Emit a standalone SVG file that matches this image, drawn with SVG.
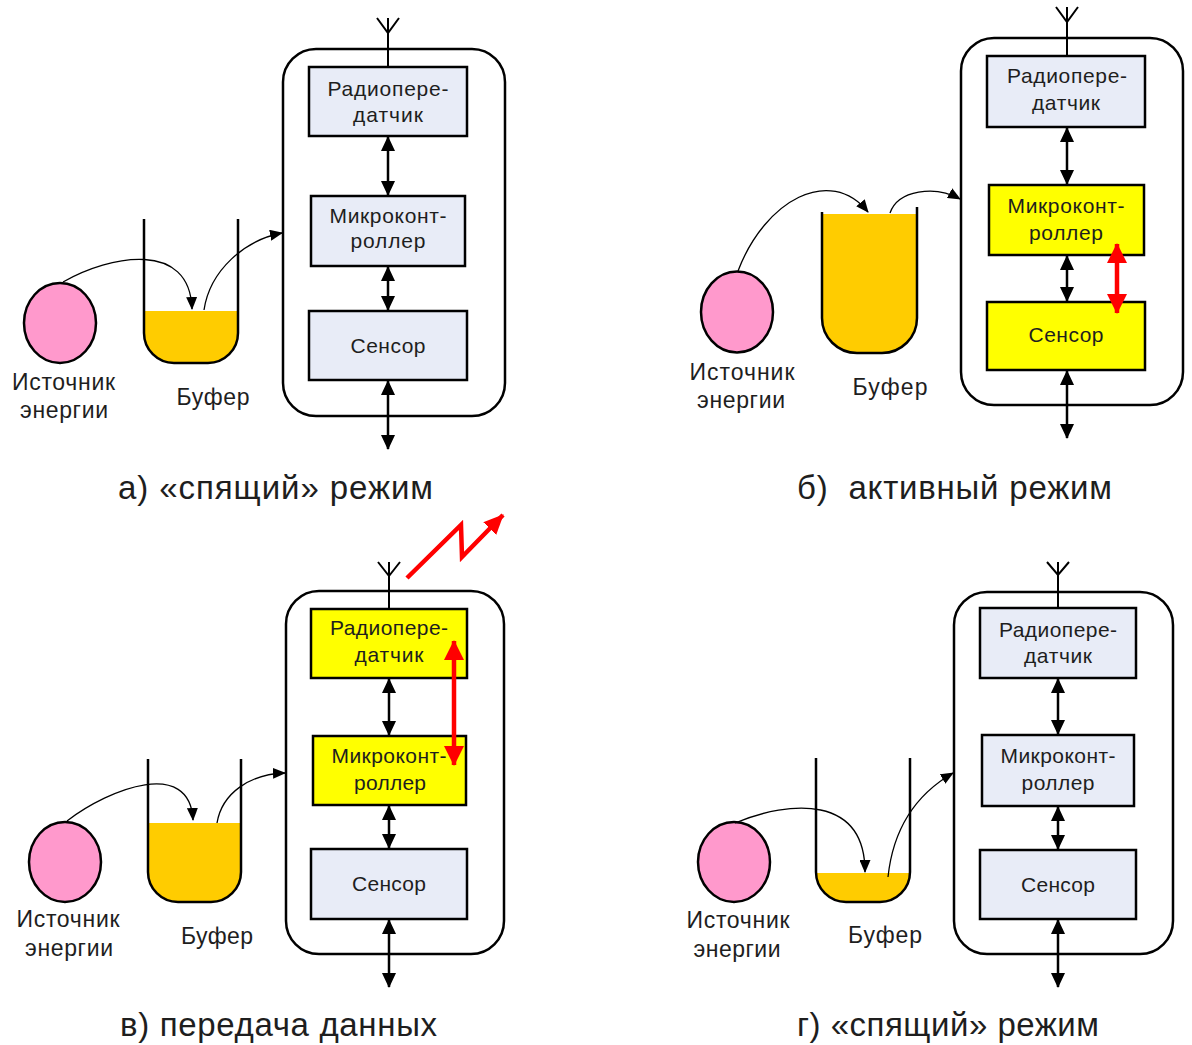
<svg xmlns="http://www.w3.org/2000/svg" width="1192" height="1045" viewBox="0 0 1192 1045">
<style>
.frame{fill:#fff;stroke:#000;stroke-width:2.5}
.bl{fill:#E8ECF7;stroke:#000;stroke-width:2.5}
.by{fill:#FFFF00;stroke:#000;stroke-width:2.5}
.src{fill:#FF99CC;stroke:#000;stroke-width:2.5}
.liq{fill:#FFCC00;stroke:none}
.cup{fill:none;stroke:#000;stroke-width:2.5}
.flow{fill:none;stroke:#000;stroke-width:1.3;marker-end:url(#ah)}
.bus{stroke:#000;stroke-width:2.5;marker-start:url(#bh);marker-end:url(#bh)}
.red{stroke:#FF0000;stroke-width:4.5;marker-start:url(#rh);marker-end:url(#rh)}
.ant{fill:none;stroke:#000;stroke-width:2}
text{font-family:"Liberation Sans",Arial,sans-serif;fill:#1e1e1e;text-anchor:middle}
.t{font-size:21px}
.l{font-size:23px}
.c{font-size:33px;white-space:pre}
</style>
<defs>
<marker id="bh" markerUnits="userSpaceOnUse" markerWidth="15" markerHeight="14" viewBox="0 0 15 14" refX="14" refY="7" orient="auto-start-reverse"><path d="M0,0L15,7L0,14z" fill="#000"/></marker>
<marker id="ah" markerUnits="userSpaceOnUse" markerWidth="13" markerHeight="11" viewBox="0 0 13 11" refX="12" refY="5.5" orient="auto"><path d="M0,0L13,5.5L0,11z" fill="#000"/></marker>
<marker id="rh" markerUnits="userSpaceOnUse" markerWidth="20" markerHeight="20" viewBox="0 0 20 20" refX="19" refY="10" orient="auto-start-reverse"><path d="M0,0L20,10L0,20z" fill="#FF0000"/></marker>
<marker id="zh" markerUnits="userSpaceOnUse" markerWidth="20" markerHeight="18" viewBox="0 0 20 18" refX="19" refY="9" orient="auto"><path d="M0,0L20,9L0,18z" fill="#FF0000"/></marker>
</defs>

<!-- Panel a -->
<g id="a-frame"><rect class="frame" x="283" y="49" width="222" height="367" rx="33"/></g>
<g id="a-source"><ellipse class="src" cx="60" cy="323" rx="36" ry="40"/>
<text class="l" x="63.5" y="390" textLength="103">Источник</text><text class="l" x="64" y="418" textLength="88">энергии</text></g>
<g id="a-buffer"><path class="liq" d="M144,311V333A30,30 0 0 0 174,363H208A30,30 0 0 0 238,333V311Z"/>
<path class="cup" d="M144,219V333A30,30 0 0 0 174,363H208A30,30 0 0 0 238,333V219"/>
<text class="l" x="213" y="405" textLength="73">Буфер</text></g>
<g id="a-radio"><rect class="bl" x="309" y="67" width="158" height="69"/>
<text class="t" x="388" y="96" textLength="121">Радиопере-</text><text class="t" x="388" y="122" textLength="70">датчик</text></g>
<g id="a-mcu"><rect class="bl" x="311" y="196" width="154" height="70"/>
<text class="t" x="388" y="223" textLength="117">Микроконт-</text><text class="t" x="388" y="248" textLength="75">роллер</text></g>
<g id="a-sensor"><rect class="bl" x="309" y="311" width="158" height="69"/>
<text class="t" x="388" y="353" textLength="75">Сенсор</text></g>
<g id="a-antenna"><path class="ant" d="M388,18V67M377,18L388,33L399,18"/></g>
<text id="a-caption" class="c" x="275.5" y="499" textLength="315">а) «спящий» режим</text>

<!-- Panel b -->
<g id="b-frame"><rect class="frame" x="961" y="38" width="222" height="367" rx="33"/></g>
<g id="b-source"><ellipse class="src" cx="737" cy="312" rx="36" ry="40.5"/>
<text class="l" x="742" y="380" textLength="105">Источник</text><text class="l" x="741" y="408" textLength="88">энергии</text></g>
<g id="b-buffer"><path class="liq" d="M822,214V318A35,35 0 0 0 857,353H882A35,35 0 0 0 917,318V214Z"/>
<path class="cup" d="M822,212V318A35,35 0 0 0 857,353H882A35,35 0 0 0 917,318V207"/>
<text class="l" x="890" y="395" textLength="75">Буфер</text></g>
<g id="b-radio"><rect class="bl" x="987" y="56" width="158" height="71"/>
<text class="t" x="1067" y="83" textLength="120">Радиопере-</text><text class="t" x="1066" y="110" textLength="68">датчик</text></g>
<g id="b-mcu"><rect class="by" x="989" y="185" width="155" height="70"/>
<text class="t" x="1066" y="213" textLength="117">Микроконт-</text><text class="t" x="1066" y="240" textLength="74">роллер</text></g>
<g id="b-sensor"><rect class="by" x="987" y="302" width="158" height="68"/>
<text class="t" x="1066" y="342" textLength="75">Сенсор</text></g>
<g id="b-antenna"><path class="ant" d="M1067,7V56M1056,7L1067,22L1078,7"/></g>
<text id="b-caption" class="c" x="954.5" y="499" textLength="315">б)  активный режим</text>

<!-- Panel c -->
<g id="c-frame"><rect class="frame" x="286" y="591" width="218" height="363" rx="33"/></g>
<g id="c-source"><ellipse class="src" cx="65" cy="862" rx="36" ry="40"/>
<text class="l" x="68" y="927" textLength="103">Источник</text><text class="l" x="69" y="956" textLength="88">энергии</text></g>
<g id="c-buffer"><path class="liq" d="M148,823V872A30,30 0 0 0 178,902H211A30,30 0 0 0 241,872V823Z"/>
<path class="cup" d="M148,759V872A30,30 0 0 0 178,902H211A30,30 0 0 0 241,872V759"/>
<text class="l" x="217" y="944" textLength="72">Буфер</text></g>
<g id="c-radio"><rect class="by" x="311" y="609" width="156" height="69"/>
<text class="t" x="389" y="635" textLength="118">Радиопере-</text><text class="t" x="389" y="662" textLength="69">датчик</text></g>
<g id="c-mcu"><rect class="by" x="313" y="736" width="153" height="69"/>
<text class="t" x="389" y="763" textLength="115">Микроконт-</text><text class="t" x="390" y="790" textLength="72">роллер</text></g>
<g id="c-sensor"><rect class="bl" x="311" y="849" width="156" height="70"/>
<text class="t" x="389" y="891" textLength="74">Сенсор</text></g>
<g id="c-antenna"><path class="ant" d="M389,562V609M378,562L389,576L400,562"/></g>
<text id="c-caption" class="c" x="278.5" y="1036" textLength="317">в) передача данных</text>

<!-- Panel d -->
<g id="d-frame"><rect class="frame" x="954" y="592" width="219" height="362" rx="33"/></g>
<g id="d-source"><ellipse class="src" cx="734" cy="862" rx="36" ry="40"/>
<text class="l" x="738" y="928" textLength="103">Источник</text><text class="l" x="737" y="957" textLength="87">энергии</text></g>
<g id="d-buffer"><path class="liq" d="M816,873L816.03,873A30,30 0 0 0 846,902H880A30,30 0 0 0 909.97,873Z"/>
<path class="cup" d="M816,758V872A30,30 0 0 0 846,902H880A30,30 0 0 0 910,872V758"/>
<text class="l" x="885" y="943" textLength="74">Буфер</text></g>
<g id="d-radio"><rect class="bl" x="980" y="608" width="156" height="70"/>
<text class="t" x="1058" y="637" textLength="118">Радиопере-</text><text class="t" x="1058" y="663" textLength="68">датчик</text></g>
<g id="d-mcu"><rect class="bl" x="982" y="735" width="152" height="71"/>
<text class="t" x="1058" y="763" textLength="115">Микроконт-</text><text class="t" x="1058" y="790" textLength="73">роллер</text></g>
<g id="d-sensor"><rect class="bl" x="980" y="850" width="156" height="69"/>
<text class="t" x="1058" y="892" textLength="74">Сенсор</text></g>
<g id="d-antenna"><path class="ant" d="M1058,562V608M1047,562L1058,575L1069,562"/></g>
<text id="d-caption" class="c" x="948" y="1036" textLength="302">г) «спящий» режим</text>

<!-- Connectors -->
<g id="connectors">
<path class="flow" d="M63,282C110,255 190,240 192,309"/>
<path class="flow" d="M204,310C210,270 245,240 282,233"/>
<line class="bus" x1="388" y1="137" x2="388" y2="195"/>
<line class="bus" x1="388" y1="267" x2="388" y2="310"/>
<line class="bus" x1="388" y1="381" x2="388" y2="449"/>

<path class="flow" d="M738,271C765,200 830,165 868,212"/>
<path class="flow" d="M890,213C898,190 935,185 960,199"/>
<line class="bus" x1="1067" y1="128" x2="1067" y2="184"/>
<line class="bus" x1="1067" y1="256" x2="1067" y2="301"/>
<line class="bus" x1="1067" y1="371" x2="1067" y2="438"/>
<line class="red" x1="1117" y1="244" x2="1117" y2="313"/>

<path class="flow" d="M67,821C110,788 190,758 193,820"/>
<path class="flow" d="M217,823C222,793 250,774 285,773"/>
<line class="bus" x1="389" y1="679" x2="389" y2="735"/>
<line class="bus" x1="389" y1="806" x2="389" y2="848"/>
<line class="bus" x1="389" y1="920" x2="389" y2="987"/>
<line class="red" x1="454" y1="641" x2="454" y2="765"/>
<polyline points="407,578 461,525 462,557 503,515" fill="none" stroke="#FF0000" stroke-width="4.5" stroke-linejoin="miter" marker-end="url(#zh)"/>

<path class="flow" d="M735,823C790,800 865,795 865,872"/>
<path class="flow" d="M888,877C893,830 915,795 953,773"/>
<line class="bus" x1="1058" y1="679" x2="1058" y2="734"/>
<line class="bus" x1="1058" y1="807" x2="1058" y2="849"/>
<line class="bus" x1="1058" y1="920" x2="1058" y2="987"/>
</g>
</svg>
